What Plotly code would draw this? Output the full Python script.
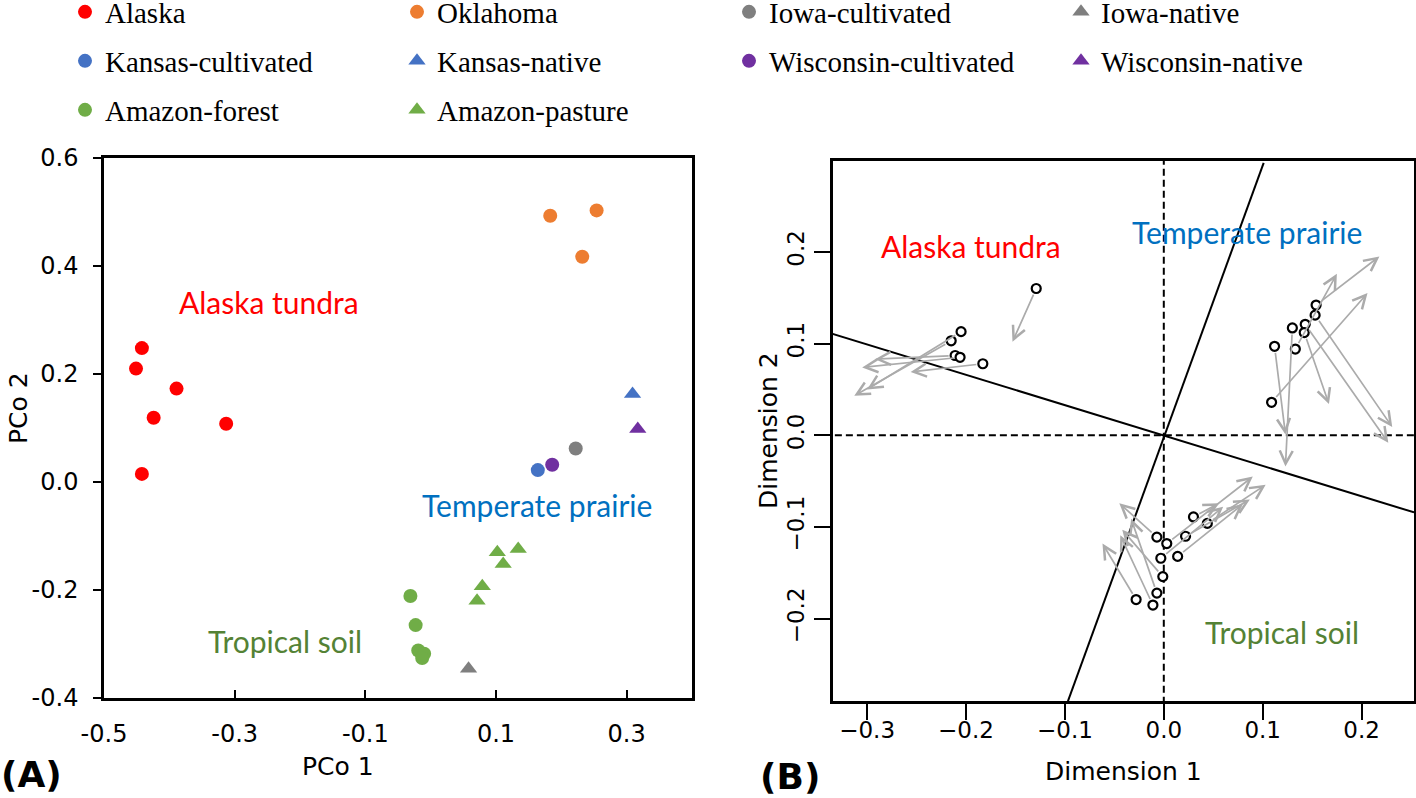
import plotly.graph_objects as go

W, H = 1416, 798

# ---------------- Panel A data (PCoA) ----------------
alaska_x = [-0.442, -0.451, -0.389, -0.424, -0.313, -0.442]
alaska_y = [0.248, 0.210, 0.173, 0.119, 0.108, 0.015]
oklahoma_x = [0.183, 0.254, 0.232]
oklahoma_y = [0.493, 0.503, 0.417]
iowa_cult_x = [0.222]
iowa_cult_y = [0.062]
iowa_nat_x = [0.058]
iowa_nat_y = [-0.346]
kansas_cult_x = [0.164]
kansas_cult_y = [0.022]
kansas_nat_x = [0.309]
kansas_nat_y = [0.163]
wisc_cult_x = [0.186]
wisc_cult_y = [0.032]
wisc_nat_x = [0.317]
wisc_nat_y = [0.098]
amazon_forest_x = [-0.031, -0.023, -0.019, -0.010, -0.013]
amazon_forest_y = [-0.211, -0.265, -0.312, -0.318, -0.326]
amazon_pasture_x = [0.102, 0.134, 0.111, 0.079, 0.071]
amazon_pasture_y = [-0.130, -0.124, -0.152, -0.193, -0.220]

a_xticks = [-0.5, -0.3, -0.1, 0.1, 0.3]
a_xticktext = ["-0.5", "-0.3", "-0.1", "0.1", "0.3"]
a_yticks = [-0.4, -0.2, 0.0, 0.2, 0.4, 0.6]
a_yticktext = ["-0.4", "-0.2", "0.0", "0.2", "0.4", "0.6"]

# ---------------- Panel B data (Procrustes) ----------------
tundra_x = [-0.129, -0.205, -0.215, -0.211, -0.206, -0.183]
tundra_y = [0.160, 0.113, 0.103, 0.087, 0.085, 0.078]
tundra_tx = [-0.153, -0.300, -0.313, -0.292, -0.305, -0.256]
tundra_ty = [0.102, 0.050, 0.043, 0.083, 0.074, 0.069]
prairie_x = [0.154, 0.153, 0.143, 0.142, 0.130, 0.133, 0.112, 0.109]
prairie_y = [0.142, 0.131, 0.121, 0.112, 0.117, 0.094, 0.097, 0.036]
prairie_tx = [0.218, 0.231, 0.227, 0.167, 0.123, 0.175, 0.123, 0.206]
prairie_ty = [0.195, 0.009, -0.008, 0.034, -0.034, 0.176, 0.001, 0.155]
tropical_x = [0.030, 0.044, 0.022, -0.007, 0.003, -0.003, 0.014, -0.001, -0.007, -0.028, -0.011]
tropical_y = [-0.089, -0.096, -0.110, -0.111, -0.118, -0.134, -0.132, -0.154, -0.172, -0.179, -0.185]
tropical_tx = [0.056, 0.103, 0.087, -0.045, 0.090, 0.060, 0.080, -0.042, -0.033, -0.062, -0.044]
tropical_ty = [-0.074, -0.054, -0.070, -0.074, -0.045, -0.078, -0.075, -0.103, -0.091, -0.118, -0.109]

rot_axis1_x = [-0.336, 0.253]
rot_axis1_y = [0.111, -0.084]
rot_axis2_x = [-0.097, 0.101]
rot_axis2_y = [-0.290, 0.297]

b_xticks = [-0.3, -0.2, -0.1, 0.0, 0.1, 0.2]
b_xticktext = ["\u22120.3", "\u22120.2", "\u22120.1", "0.0", "0.1", "0.2"]
b_yticks = [-0.2, -0.1, 0.0, 0.1, 0.2]
b_yticktext = ["\u22120.2", "\u22120.1", "0.0", "0.1", "0.2"]

# ---------------- styling ----------------
RED = "#FF0000"
ORANGE = "#ED7D31"
GRAY = "#7F7F7F"
BLUE = "#4472C4"
PURPLE = "#7030A0"
GREEN = "#70AD47"

groups = [
    ("Alaska", alaska_x, alaska_y, RED, "circle", "legend"),
    ("Oklahoma", oklahoma_x, oklahoma_y, ORANGE, "circle", "legend"),
    ("Iowa-cultivated", iowa_cult_x, iowa_cult_y, GRAY, "circle", "legend"),
    ("Iowa-native", iowa_nat_x, iowa_nat_y, GRAY, "triangle-up", "legend"),
    ("Kansas-cultivated", kansas_cult_x, kansas_cult_y, BLUE, "circle", "legend2"),
    ("Kansas-native", kansas_nat_x, kansas_nat_y, BLUE, "triangle-up", "legend2"),
    ("Wisconsin-cultivated", wisc_cult_x, wisc_cult_y, PURPLE, "circle", "legend2"),
    ("Wisconsin-native", wisc_nat_x, wisc_nat_y, PURPLE, "triangle-up", "legend2"),
    ("Amazon-forest", amazon_forest_x, amazon_forest_y, GREEN, "circle", "legend3"),
    ("Amazon-pasture", amazon_pasture_x, amazon_pasture_y, GREEN, "triangle-up", "legend3"),
]

fig = go.Figure()
for name, xs, ys, col, sym, leg in groups:
    fig.add_trace(go.Scatter(
        x=xs, y=ys, mode="markers", name=name, legend=leg,
        marker=dict(color=col, symbol=sym, size=14 if sym == "circle" else 15,
                    line=dict(width=0)),
        xaxis="x", yaxis="y", hoverinfo="x+y+name"))

# Panel B reference lines
dash_style = dict(color="black", width=2, dash="7px,4px")
fig.add_trace(go.Scatter(x=[0, 0], y=[-1, 1], mode="lines", showlegend=False,
                         line=dash_style, xaxis="x2", yaxis="y2", hoverinfo="skip"))
fig.add_trace(go.Scatter(x=[-1, 1], y=[0, 0], mode="lines", showlegend=False,
                         line=dash_style, xaxis="x2", yaxis="y2", hoverinfo="skip"))
fig.add_trace(go.Scatter(x=rot_axis1_x, y=rot_axis1_y, mode="lines", showlegend=False,
                         line=dict(color="black", width=2),
                         xaxis="x2", yaxis="y2", hoverinfo="skip"))
fig.add_trace(go.Scatter(x=rot_axis2_x, y=rot_axis2_y, mode="lines", showlegend=False,
                         line=dict(color="black", width=2),
                         xaxis="x2", yaxis="y2", hoverinfo="skip"))

annotations = []
for xs, ys, txs, tys in [(tundra_x, tundra_y, tundra_tx, tundra_ty),
                         (prairie_x, prairie_y, prairie_tx, prairie_ty),
                         (tropical_x, tropical_y, tropical_tx, tropical_ty)]:
    fig.add_trace(go.Scatter(
        x=xs, y=ys, mode="markers", showlegend=False,
        marker=dict(symbol="circle", size=9, color="white",
                    line=dict(color="black", width=2.2)),
        xaxis="x2", yaxis="y2"))
    for x0, y0, x1, y1 in zip(xs, ys, txs, tys):
        annotations.append(dict(
            x=x1, y=y1, ax=x0, ay=y0, xref="x2", yref="y2", axref="x2", ayref="y2",
            text="", showarrow=True, arrowhead=5, arrowsize=1.5, arrowwidth=1.7,
            arrowcolor="#ABABAB", startstandoff=5))

label_font = "Lato"
def region_label(text, x, y, color, xref, yref):
    return dict(text=text, x=x, y=y, xref=xref, yref=yref, showarrow=False,
                font=dict(family=label_font, size=30, color=color),
                xanchor="center", yanchor="middle")

annotations += [
    region_label("Alaska tundra", -0.247, 0.333, RED, "x", "y"),
    region_label("Temperate prairie", 0.162, -0.043, "#0070C0", "x", "y"),
    region_label("Tropical soil", -0.223, -0.294, "#548235", "x", "y"),
    region_label("Alaska tundra", -0.195, 0.206, RED, "x2", "y2"),
    region_label("Temperate prairie", 0.0845, 0.222, "#0070C0", "x2", "y2"),
    region_label("Tropical soil", 0.120, -0.214, "#548235", "x2", "y2"),
]

def paper_text(text, px, py, size, bold=False, angle=0):
    return dict(text=("<b>%s</b>" % text) if bold else text,
                x=px / W, y=1 - py / H, xref="paper", yref="paper",
                showarrow=False, textangle=angle, xanchor="center", yanchor="middle",
                font=dict(family="DejaVu Sans", size=size, color="black"))

annotations += [
    paper_text("PCo 1", 338, 766, 25),
    paper_text("PCo 2", 18, 408, 25, angle=-90),
    paper_text("Dimension 1", 1123, 771, 25),
    paper_text("Dimension 2", 768, 431, 25, angle=-90),
    paper_text("(A)", 31, 774, 36, bold=True),
    paper_text("(B)", 790, 776, 36, bold=True),
]

axis_common = dict(showgrid=False, zeroline=False, showline=True, mirror=True,
                   linecolor="black", linewidth=2.5, tickcolor="black", tickwidth=2,
                   automargin=False)

leg_common = dict(orientation="h", xref="container", yref="container",
                  xanchor="left", yanchor="middle", x=65 / W,
                  font=dict(family="Liberation Serif", size=29, color="black"),
                  entrywidth=287, entrywidthmode="pixels",
                  bgcolor="rgba(0,0,0,0)", itemwidth=30)

fig.update_layout(
    width=W, height=H,
    margin=dict(l=0, r=0, t=0, b=0, pad=0, autoexpand=False),
    paper_bgcolor="white", plot_bgcolor="white",
    xaxis=dict(domain=[104 / W, 692 / W], anchor="y", range=[-0.5, 0.4],
               tickmode="array", tickvals=a_xticks, ticktext=a_xticktext,
               ticks="inside", ticklen=8, ticklabelstandoff=12,
               tickfont=dict(family="DejaVu Sans", size=24, color="black"),
               **axis_common),
    yaxis=dict(domain=[1 - 698 / H, 1 - 158 / H], anchor="x", range=[-0.4, 0.6],
               tickmode="array", tickvals=a_yticks, ticktext=a_yticktext,
               ticks="outside", ticklen=8, ticklabelstandoff=10,
               tickfont=dict(family="DejaVu Sans", size=24, color="black"),
               **axis_common),
    xaxis2=dict(domain=[833 / W, 1414 / W], anchor="y2", range=[-0.3345, 0.253],
                tickmode="array", tickvals=b_xticks, ticktext=b_xticktext,
                ticks="outside", ticklen=16, ticklabelstandoff=-9,
                tickfont=dict(family="DejaVu Sans", size=23, color="black"),
                **axis_common),
    yaxis2=dict(domain=[1 - 701 / H, 1 - 161 / H], anchor="x2", range=[-0.2896, 0.299],
                tickmode="array", tickvals=b_yticks, ticktext=b_yticktext,
                ticks="outside", ticklen=16, tickangle=-90, ticklabelstandoff=1,
                tickfont=dict(family="DejaVu Sans", size=23, color="black"),
                **axis_common),
    legend=dict(y=1 - 12 / H, **leg_common),
    legend2=dict(y=1 - 61 / H, **leg_common),
    legend3=dict(y=1 - 110 / H, **leg_common),
    annotations=annotations,
    showlegend=True,
)

fig.write_html("out.html", config={"displayModeBar": False},
               post_script="document.body.style.margin='0px';document.body.style.overflow='hidden';")
